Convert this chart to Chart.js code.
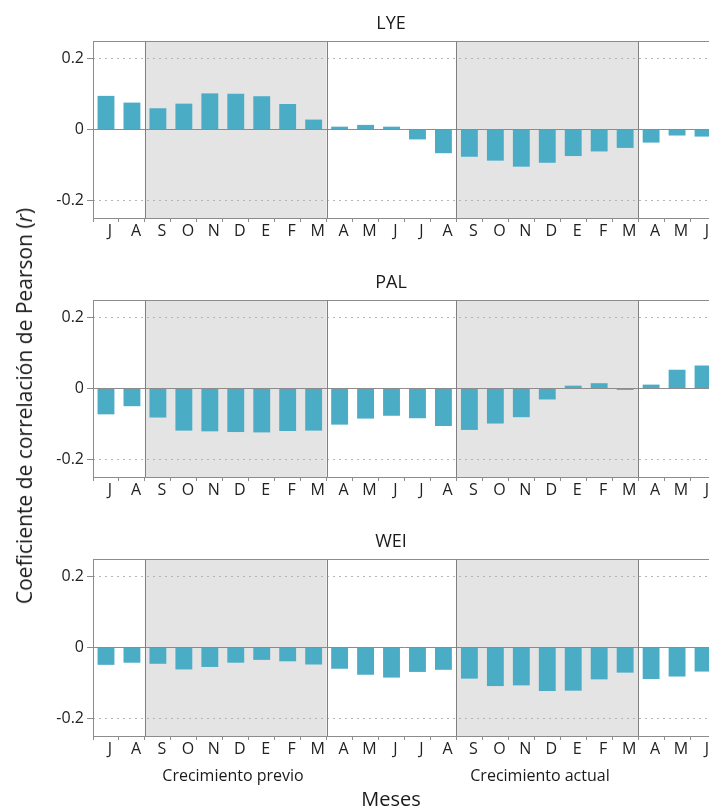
<!DOCTYPE html>
<html>
<head>
<meta charset="utf-8">
<script src="https://cdn.jsdelivr.net/npm/chart.js@4/dist/chart.umd.min.js"></script>
<style>
  body { margin: 0; background: #fff; overflow: hidden; }
  #wrap { position: relative; width: 709px; height: 810px; overflow: hidden; font-family: "Open Sans", sans-serif; color: #1a1a1a; }
  canvas { position: absolute; left: 0; }
  .lbl { position: absolute; white-space: nowrap; transform: translate(-50%, -50%); }
  .title { font-size: 18px; }
  #ylab { left: 24px; top: 406px; font-size: 21px; transform: translate(-50%, -50%) rotate(-90deg); }
</style>
</head>
<body>
<div id="wrap">
  <canvas id="c0" width="716" height="259" style="top:0px"></canvas>
  <canvas id="c1" width="716" height="259" style="top:259px"></canvas>
  <canvas id="c2" width="716" height="259" style="top:518px"></canvas>
  <div class="lbl title" style="left:391px; top:22px">LYE</div>
  <div class="lbl title" style="left:391px; top:281px">PAL</div>
  <div class="lbl title" style="left:391px; top:540px">WEI</div>
  <div class="lbl" id="ylab">Coeficiente de correlación de Pearson (<i>r</i>)</div>
  <div class="lbl" style="left:233px; top:775px; font-size:16px">Crecimiento previo</div>
  <div class="lbl" style="left:540px; top:775px; font-size:16px">Crecimiento actual</div>
  <div class="lbl" style="left:391px; top:798px; font-size:20px">Meses</div>
</div>
<script>
// meses (julio del año previo a junio del año actual)
var months = ['J','A','S','O','N','D','E','F','M','A','M','J','J','A','S','O','N','D','E','F','M','A','M','J'];

var lye = [0.095, 0.076, 0.060, 0.073, 0.102, 0.101, 0.094, 0.072, 0.028, 0.008, 0.013, 0.008,
           -0.028, -0.067, -0.077, -0.088, -0.105, -0.094, -0.075, -0.062, -0.052, -0.037, -0.017, -0.020];
var pal = [-0.073, -0.050, -0.082, -0.119, -0.121, -0.123, -0.124, -0.120, -0.119, -0.102, -0.085, -0.077,
           -0.084, -0.106, -0.117, -0.099, -0.081, -0.031, 0.008, 0.015, -0.004, 0.011, 0.053, 0.065];
var wei = [-0.049, -0.043, -0.046, -0.062, -0.055, -0.043, -0.035, -0.039, -0.048, -0.060, -0.077, -0.085,
           -0.069, -0.063, -0.088, -0.109, -0.107, -0.123, -0.122, -0.090, -0.071, -0.089, -0.082, -0.068];

var yTicks = [-0.2, 0, 0.2];
// periodos de crecimiento (indices de mes, S..M)
var shaded = [[2, 8], [14, 20]];

var decor = {
  id: 'decor',
  beforeDraw: function(chart){
    var c = chart.ctx, a = chart.chartArea, x = chart.scales.x;
    c.save();
    c.fillStyle = '#e4e4e4';
    shaded.forEach(function(s){
      var l = x.getPixelForValue(s[0] - 0.5), r = x.getPixelForValue(s[1] + 0.5);
      c.fillRect(l, a.top, r - l, a.bottom - a.top);
    });
    c.restore();
  },
  beforeDatasetsDraw: function(chart){
    var c = chart.ctx, a = chart.chartArea, x = chart.scales.x;
    c.save();
    c.strokeStyle = '#808080';
    c.lineWidth = 1;
    shaded.forEach(function(s){
      [s[0] - 0.5, s[1] + 0.5].forEach(function(v){
        var px = Math.round(x.getPixelForValue(v)) + 0.5;
        c.beginPath(); c.moveTo(px, a.top); c.lineTo(px, a.bottom); c.stroke();
      });
    });
    c.restore();
  },
  afterDatasetsDraw: function(chart){
    var c = chart.ctx, a = chart.chartArea;
    c.save();
    c.strokeStyle = '#8c8c8c';
    c.lineWidth = 1;
    c.strokeRect(Math.round(a.left) + 0.5, Math.round(a.top) + 0.5, a.right - a.left, Math.round(a.bottom - a.top));
    c.restore();
  }
};

function panel(id, data){
  new Chart(document.getElementById(id), {
    type: 'bar',
    data: {
      labels: months,
      datasets: [{ data: data, backgroundColor: '#4bacc6', barPercentage: 0.65, categoryPercentage: 1 }]
    },
    options: {
      responsive: false,
      animation: false,
      layout: { padding: { top: 41, left: 0, right: 0, bottom: 0 } },
      plugins: { legend: { display: false }, tooltip: { enabled: false } },
      scales: {
        x: {
          offset: true,
          afterFit: function(s){ s.height = 41; },
          grid: { offset: true, drawOnChartArea: false, drawTicks: true, tickLength: 4, tickColor: '#8c8c8c' },
          border: { display: false },
          ticks: { color: '#222', font: { family: 'Open Sans', size: 16 }, maxRotation: 0, autoSkip: false, padding: 0, labelOffset: 4 }
        },
        y: {
          min: -0.25, max: 0.25,
          afterFit: function(s){ s.width = 93; },
          afterBuildTicks: function(s){ s.ticks = yTicks.map(function(v){ return { value: v }; }); },
          grid: {
            color: function(ctx){ return ctx.tick && ctx.tick.value === 0 ? '#8c8c8c' : '#b4b4b4'; },
            drawTicks: true, tickLength: 6, tickColor: '#8c8c8c'
          },
          border: {
            display: false,
            dash: function(ctx){ return (ctx.type === 'tick' && ctx.tick && ctx.tick.value !== 0) ? [2, 4] : []; }
          },
          ticks: {
            color: '#222', font: { family: 'Open Sans', size: 16 }, padding: 3,
            callback: function(v){ return v === 0 ? '0' : v.toFixed(1); }
          }
        }
      }
    },
    plugins: [decor]
  });
}

panel('c0', lye);
panel('c1', pal);
panel('c2', wei);
</script>
</body>
</html>
